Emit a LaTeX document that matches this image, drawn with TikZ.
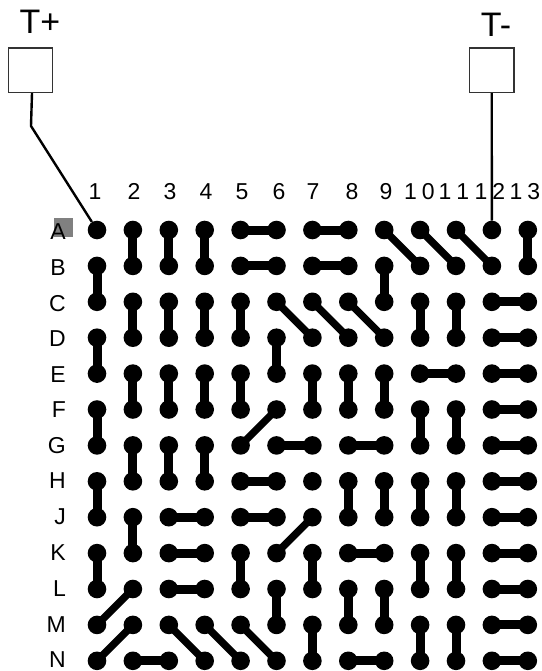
\documentclass[tikz,border=0pt]{standalone}
\usepackage{fontspec}
\setmainfont{Liberation Sans}
\tikzset{
  dot/.style={circle,fill=black,draw=none,minimum size=18.6pt,inner sep=0pt},
  link/.style={line width=9pt,black,shorten >=-2pt,shorten <=-2pt},
  slant/.style={line width=7.4pt,black,shorten >=-2pt,shorten <=-2pt},
  wire/.style={line width=2.4pt,black,line join=round},
  termbox/.style={rectangle,draw=black!80,line width=1.3pt,fill=white,minimum size=44.5pt,inner sep=0pt},
  big/.style={font=\fontsize{34}{34}\selectfont,anchor=base,inner sep=0pt},
  coltext/.style={font=\fontsize{23}{23}\selectfont,anchor=base,inner sep=0pt},
  rowtext/.style={font=\fontsize{23}{23}\selectfont,anchor=base east,inner sep=0pt},
}
\begin{document}
\begin{tikzpicture}[x=1pt,y=-1pt]
\useasboundingbox (0,0) rectangle (541,671);
% highlighted square
\fill[gray] (54,218) rectangle (73,237);
% terminals
\node[termbox] (tp) at (30.5,70.3) {};
\node[termbox] (tm) at (491.7,70.3) {};
\node[big] (tpl) at (40,33.3) {T+};
\node[big] (tml) at (496,37) {T-};
% column labels
\node[coltext] (c1) at (95,199) {1};
\node[coltext] (c2) at (134,199) {2};
\node[coltext] (c3) at (170,199) {3};
\node[coltext] (c4) at (206,199) {4};
\node[coltext] (c5) at (242,199) {5};
\node[coltext] (c6) at (279,199) {6};
\node[coltext] (c7) at (313,199) {7};
\node[coltext] (c8) at (352,199) {8};
\node[coltext] (c9) at (386,199) {9};
\node[coltext] (c10) at (419.4,199) {1\kern5pt 0};
\node[coltext] (c11) at (454,199) {1\kern5pt 1};
\node[coltext] (c12) at (490,199) {1\kern5pt 2};
\node[coltext] (c13) at (525,199) {1\kern5pt 3};
% row labels
\foreach \r/\b in {A/239,B/275,C/311,D/346.5,E/382.7,F/417.7,G/453,H/488.7,J/524.7,K/560.7,L/596,M/632,N/667}
  \node[rowtext] (r\r) at (66,\b) {\r};
% dots
\foreach \c in {1,...,13}
  \foreach \r/\i in {A/0,B/1,C/2,D/3,E/4,F/5,G/6,H/7,J/8,K/9,L/10,M/11,N/12}
    \node[dot] (d\c\r) at ({97+35.9*(\c-1)},{230+35.9*\i}) {};
% terminal wires
\coordinate (bend) at (31,126);
\draw[wire] ([xshift=1.5pt]tp.south) -- (bend) -- (d1A);
\draw[wire] (tm.south) -- (d12A);
% vertical links
\foreach \c/\a/\b in {
  1/B/C,1/D/E,1/F/G,1/H/J,1/K/L,
  2/A/B,2/C/D,2/E/F,2/G/H,2/J/K,
  3/A/B,3/C/D,3/E/F,3/G/H,
  4/A/B,4/C/D,4/E/F,4/G/H,
  5/C/D,5/E/F,5/K/L,
  6/D/E,6/L/M,
  7/E/F,7/K/L,7/M/N,
  8/E/F,8/H/J,8/L/M,
  9/B/C,9/E/F,9/H/J,9/L/M,
  10/C/D,10/F/G,10/H/J,10/K/L,10/M/N,
  11/C/D,11/F/G,11/H/J,11/K/L,11/M/N,
  13/A/B}
  \draw[link] (d\c\a) -- (d\c\b);
% horizontal links
\foreach \a/\b/\r in {
  5/6/A,5/6/B,5/6/H,5/6/J,
  7/8/A,7/8/B,
  6/7/G,8/9/G,8/9/K,8/9/N,
  3/4/J,3/4/K,3/4/L,2/3/N,
  10/11/E,
  12/13/C,12/13/D,12/13/E,12/13/F,12/13/G,12/13/H,12/13/J,12/13/K,12/13/L,12/13/M,12/13/N}
  \draw[link] (d\a\r) -- (d\b\r);
% diagonal links
\draw[slant] (d9A) -- (d10B);
\draw[slant] (d10A) -- (d11B);
\draw[slant] (d11A) -- (d12B);
\draw[slant] (d6C) -- (d7D);
\draw[slant] (d7C) -- (d8D);
\draw[slant] (d8C) -- (d9D);
\draw[slant] (d5G) -- (d6F);
\draw[slant] (d6K) -- (d7J);
\draw[slant] (d1M) -- (d2L);
\draw[slant] (d1N) -- (d2M);
\draw[slant] (d3M) -- (d4N);
\draw[slant] (d4M) -- (d5N);
\draw[slant] (d5M) -- (d6N);
\end{tikzpicture}
\end{document}
